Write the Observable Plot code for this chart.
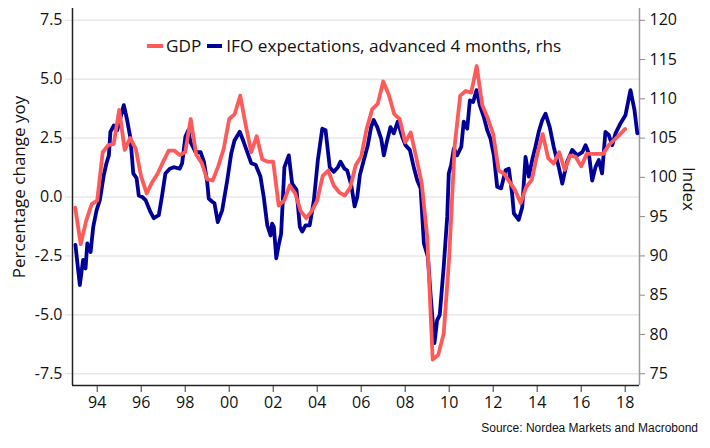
<!DOCTYPE html>
<html><head><meta charset="utf-8">
<script src="https://cdn.jsdelivr.net/npm/d3@7"></script>
<script src="https://cdn.jsdelivr.net/npm/@observablehq/plot@0.6"></script>
<style>
body{margin:0;background:#fff;}
#wrap{position:relative;width:710px;height:448px;font-family:"Open Sans",sans-serif;color:#1a1a1a;}
.abs{position:absolute;white-space:nowrap;}
</style></head><body><div id="wrap"></div>
<script>
// GDP, % y/y, quarterly from 1993Q1 (left axis)
const gdpStartYear = 1993;
const gdpValues = [-0.45,-2.0,-1.0,-0.3,-0.15,1.9,2.2,2.25,3.7,2.0,
  2.5,2.05,0.85,0.15,0.63,1.0,1.5,1.97,1.97,1.78,
  1.9,3.31,1.8,1.45,0.75,0.7,1.3,2.04,3.31,3.52,
  4.3,3.05,1.9,2.58,1.6,1.5,1.5,-0.36,-0.15,0.49,
  0.15,-0.6,-0.9,-0.6,-0.15,0.9,1.12,0.49,0.2,0.06,
  0.4,1.35,1.72,2.9,3.73,3.95,4.9,4.35,3.52,3.31,
  2.32,2.74,1.68,0.6,-1.7,-6.9,-6.7,-5.8,-2.55,2.2,
  4.3,4.5,4.43,5.56,3.9,3.35,2.67,1.12,0.98,0.63,
  0.28,-0.25,0.42,0.72,1.8,2.67,1.65,1.42,1.9,1.15,
  1.76,1.7,1.3,1.83,1.83,1.83,1.83,2.2,2.42,2.65,2.89];

// IFO expectations, advanced 4 months (index, right axis)
const ifoDates = [1993.01,1993.21,1993.36,1993.47,1993.55,1993.70,1993.82,1993.97,1994.12,1994.30,
  1994.42,1994.53,1994.60,1994.75,1994.91,1995.03,1995.21,1995.36,1995.51,1995.64,
  1995.79,1995.89,1996.05,1996.20,1996.42,1996.57,1996.80,1996.95,1997.10,1997.30,
  1997.48,1997.75,1997.86,1998.01,1998.14,1998.24,1998.47,1998.70,1998.85,1999.00,
  1999.07,1999.23,1999.33,1999.48,1999.68,1999.91,2000.09,2000.24,2000.48,2000.66,
  2000.85,2001.00,2001.20,2001.42,2001.57,2001.73,2001.88,2001.95,2002.03,2002.14,
  2002.25,2002.36,2002.51,2002.71,2002.86,2003.06,2003.21,2003.32,2003.47,2003.66,
  2003.85,2004.03,2004.23,2004.38,2004.57,2004.75,2004.94,2005.06,2005.24,2005.36,
  2005.55,2005.70,2005.82,2005.94,2006.12,2006.30,2006.45,2006.57,2006.73,2006.91,
  2007.03,2007.18,2007.33,2007.48,2007.66,2007.86,2008.01,2008.21,2008.39,2008.55,
  2008.70,2008.85,2009.03,2009.15,2009.33,2009.45,2009.57,2009.75,2009.91,2009.98,
  2010.09,2010.21,2010.36,2010.55,2010.66,2010.82,2010.94,2011.09,2011.24,2011.39,
  2011.57,2011.73,2011.88,2012.03,2012.18,2012.36,2012.56,2012.71,2012.86,2012.94,
  2013.16,2013.32,2013.47,2013.62,2013.77,2013.92,2014.07,2014.23,2014.38,2014.57,
  2014.75,2014.98,2015.14,2015.36,2015.59,2015.82,2016.05,2016.20,2016.35,2016.50,
  2016.65,2016.80,2016.95,2017.10,2017.25,2017.41,2017.56,2017.79,2018.01,2018.24,
  2018.42,2018.55];
const ifoValues = [91.4,86.3,89.5,88.4,91.6,90.5,93.7,95.8,97.1,100.3,
  101.8,102.8,105.8,106.6,106.0,107.3,109.2,107.3,105.0,100.5,
  99.9,97.7,97.5,97.1,95.6,94.8,95.2,97.7,100.5,101.1,
  101.3,101.1,101.8,105.2,106.0,104.5,103.2,103.2,102.0,99.4,
  97.3,96.9,96.7,94.3,95.8,99.6,103.0,104.7,105.8,104.5,
  103.0,101.8,101.6,100.1,97.5,93.9,92.6,94.1,93.7,89.7,
  91.4,92.8,101.3,102.8,99.2,98.4,93.7,93.1,93.9,93.9,
  97.1,102.2,106.2,106.0,101.3,100.7,101.3,102.0,101.1,100.9,
  99.0,96.3,97.5,100.3,102.2,104.1,106.4,107.3,106.4,104.9,
  102.8,104.7,106.4,105.6,107.1,105.2,104.1,103.5,101.3,99.6,
  98.6,91.6,89.9,85.2,78.9,81.8,82.5,88.6,95.0,100.5,
  101.6,103.7,102.8,103.9,107.1,106.2,109.8,109.6,111.1,109.2,
  107.7,106.0,104.9,102.8,98.8,98.6,100.9,101.1,97.9,95.4,
  94.6,96.2,102.6,100.1,102.2,103.9,105.8,107.3,108.1,106.4,
  103.9,101.3,99.2,102.0,103.5,102.8,103.2,104.1,103.0,99.6,
  101.3,102.2,100.5,105.8,105.4,104.1,105.6,106.9,107.9,111.1,
  108.6,105.6];

const xTickYears = [1994,1996,1998,2000,2002,2004,2006,2008,2010,2012,2014,2016,2018];
const xTickLabels = ["94","96","98","00","02","04","06","08","10","12","14","16","18"];
const leftTicks = [-7.5,-5,-2.5,0,2.5,5,7.5];
const leftTickLabels = ["-7.5","-5.0","-2.5","0.0","2.5","5.0","7.5"];
const rightTicks = [75,80,85,90,95,100,105,110,115,120];

const xDomain = [1992.877, 2018.65];
const yDomain = [-8, 8];
// right axis: index = 97.5 + 3 * (% change)
const toLeft = r => (r - 97.5) / 3;

const red = "#ff5a5a", blue = "#000099";

const gdp = gdpValues.map((v, i) => ({date: gdpStartYear + i / 4, value: v}));
const ifo = ifoValues.map((v, i) => ({date: ifoDates[i], value: v}));
const xLabel = new Map(xTickYears.map((y, i) => [y, xTickLabels[i]]));
const lLabel = new Map(leftTicks.map((t, i) => [t, leftTickLabels[i]]));

const chart = Plot.plot({
  width: 710, height: 448,
  marginLeft: 72, marginRight: 71, marginTop: 8, marginBottom: 63,
  x: {domain: xDomain},
  y: {domain: yDomain},
  style: {fontFamily: "'Open Sans', sans-serif", fontSize: "16px", color: "#111", background: "white"},
  marks: [
    Plot.ruleY(leftTicks, {stroke: "#e8e8e8", strokeWidth: 1.5}),
    Plot.axisY(leftTicks, {anchor: "left", tickSize: 7, tickPadding: 3, stroke: "#dcdcdc", tickFormat: d => lLabel.get(d), label: null, fontSize: 16}),
    Plot.axisY(rightTicks.map(toLeft), {anchor: "right", tickSize: 5, tickPadding: 5, stroke: "#8a8a8a", tickFormat: d => String(Math.round(97.5 + 3 * d)), label: null, fontSize: 16}),
    Plot.axisX(xTickYears, {anchor: "bottom", tickSize: 7, tickPadding: 4, stroke: "#333", tickFormat: d => xLabel.get(d), label: null, fontSize: 16}),
    Plot.ruleX([xDomain[1]], {stroke: "#9a9a9a", strokeWidth: 1.5}),
    Plot.ruleX([xDomain[0]], {stroke: "#222", strokeWidth: 1.5}),
    Plot.ruleY([yDomain[0]], {stroke: "#222", strokeWidth: 1.5}),
    Plot.line(ifo, {x: "date", y: d => toLeft(d.value), stroke: blue, strokeWidth: 3.8}),
    Plot.line(gdp, {x: "date", y: "value", stroke: red, strokeWidth: 3.8})
  ]
});

const wrap = document.getElementById("wrap");
wrap.appendChild(chart);

function addDiv(html, css) {
  const d = document.createElement("div");
  d.className = "abs";
  d.innerHTML = html;
  d.style.cssText += css;
  wrap.appendChild(d);
  return d;
}
// legend
addDiv(
  `<span style="display:inline-block;width:16px;height:4px;background:${red};vertical-align:middle;margin-right:3px"></span>` +
  `<span style="vertical-align:middle">GDP</span>` +
  `<span style="display:inline-block;width:15px;height:4px;background:${blue};vertical-align:middle;margin-left:6px;margin-right:4px"></span>` +
  `<span style="vertical-align:middle">IFO expectations, advanced 4 months, rhs</span>`,
  "left:147px;top:33px;font-size:17.2px;line-height:24px;color:#111;");
// axis titles
addDiv("Percentage change yoy", "left:18px;top:187px;font-size:17px;color:#111;transform:translate(-50%,-50%) rotate(-90deg);");
addDiv("Index", "left:689px;top:189px;font-size:17px;color:#111;transform:translate(-50%,-50%) rotate(90deg);");
// source
addDiv("Source: Nordea Markets and Macrobond", "right:12px;top:421px;font-size:12px;color:#111;font-family:'Liberation Sans',Arial,sans-serif;");
</script></body></html>
